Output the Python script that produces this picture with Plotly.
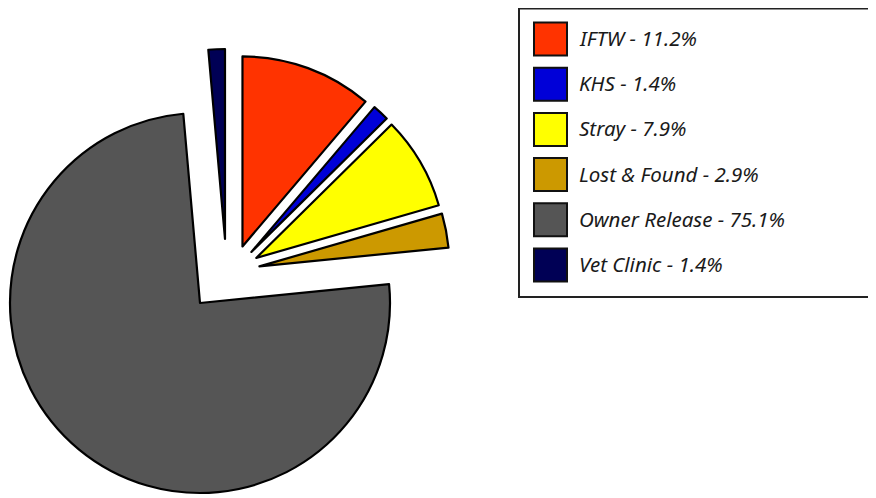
import plotly.graph_objects as go

labels = ["IFTW", "KHS", "Stray", "Lost & Found", "Owner Release", "Vet Clinic"]
values = [11.2, 1.4, 7.9, 2.9, 75.1, 1.4]
colors = ["#FF3300", "#0000D8", "#FFFF00", "#CC9900", "#555555", "#000055"]

W, H = 876, 498
OFF = 8  # page body margin
R = 190  # pie radius in px
PULL = 0.14

def px_x(x):
    return (x - OFF) / W

def px_y(y):
    return 1 - (y - OFF) / H

def domain(cx, cy, half):
    return dict(x=[px_x(cx - half), px_x(cx + half)],
                y=[px_y(cy + half), px_y(cy - half)])

transparent = "rgba(0,0,0,0)"

def pie_part(shown, cx, cy, pull):
    """One pie of the full data where only the slices in `shown` are painted."""
    pulls = [pull if l in shown else 0 for l in labels]
    return go.Pie(
        labels=labels, values=values, sort=False, direction="clockwise", rotation=0,
        pull=pulls,
        marker=dict(colors=[c if l in shown else transparent for l, c in zip(labels, colors)],
                    line=dict(color="#000000", width=[2.2 if l in shown else 0 for l in labels])),
        textinfo="none", showlegend=False,
        domain=domain(cx, cy, R * (1 + max(pulls))),
    )

fig = go.Figure()
fig.add_trace(pie_part(["Owner Release"], 200, 303, 0))
fig.add_trace(pie_part(["IFTW", "KHS", "Stray", "Lost & Found"], 233.3, 271.4, PULL))
fig.add_trace(pie_part(["Vet Clinic"], 225, 239, 0))

# Manual legend box
shapes = [dict(type="rect", xref="paper", yref="paper",
               x0=px_x(519), x1=px_x(870), y0=px_y(297), y1=px_y(8.5),
               line=dict(color="#222222", width=2), fillcolor="white", layer="below")]
annotations = []
row0, step = 39, 45.2
for i, (lab, val, col) in enumerate(zip(labels, values, colors)):
    cy = row0 + i * step
    shapes.append(dict(type="rect", xref="paper", yref="paper",
                       x0=px_x(534), x1=px_x(567), y0=px_y(cy + 16.5), y1=px_y(cy - 16.5),
                       line=dict(color="#111111", width=2), fillcolor=col))
    annotations.append(dict(xref="paper", yref="paper", x=px_x(577), y=px_y(cy - 1),
                            xanchor="left", yanchor="middle", showarrow=False,
                            text=f"<i>{lab} - {val:.1f}%</i>",
                            font=dict(family="Noto Sans", size=20.5, color="#1a1a1a")))

fig.update_layout(
    width=W, height=H,
    margin=dict(l=0, r=0, t=0, b=0),
    paper_bgcolor="white", plot_bgcolor="white",
    shapes=shapes, annotations=annotations,
)

fig.write_html("out.html")
